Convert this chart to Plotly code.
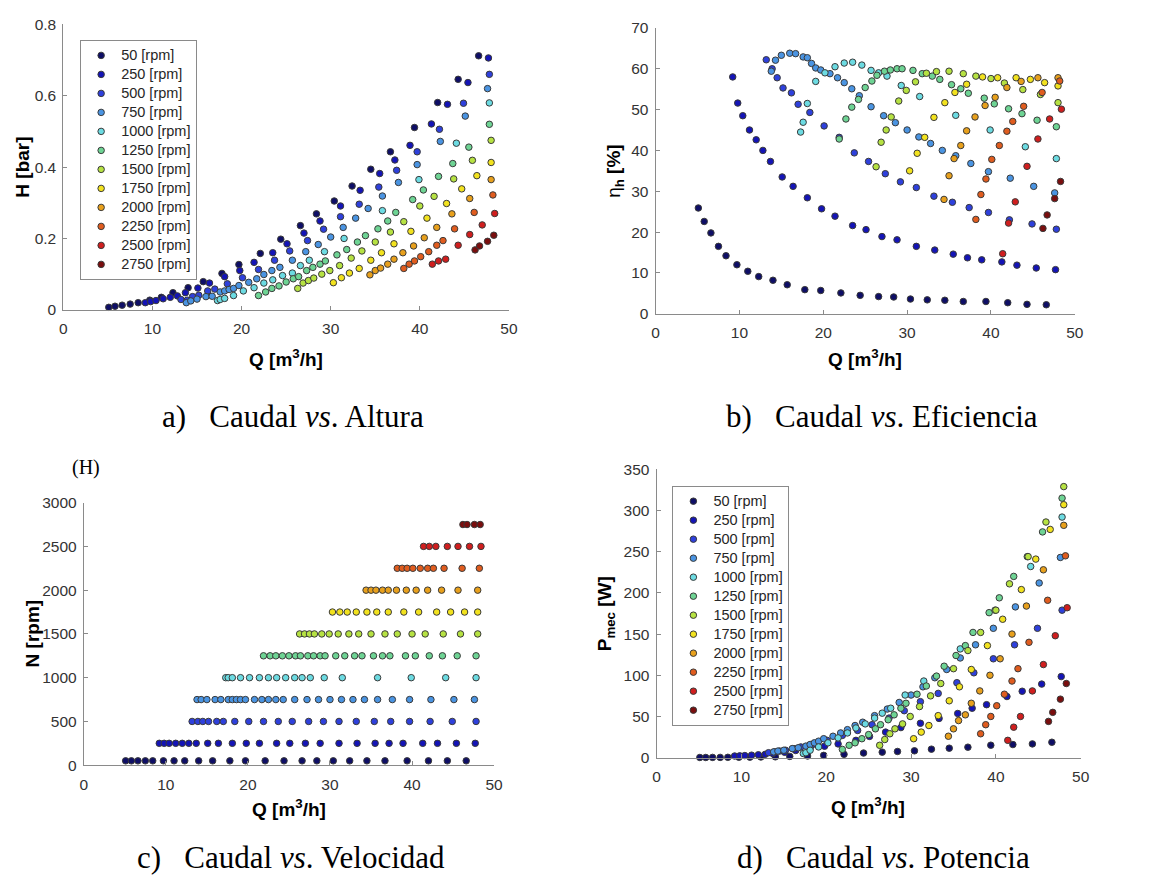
import plotly.graph_objects as go

# ---------------- data ----------------
speeds = [50, 250, 500, 750, 1000, 1250, 1500, 1750, 2000, 2250, 2500, 2750]

Q_50 = [5.1, 5.8, 6.6, 7.5, 8.4, 9.7, 11.0, 12.3, 14.0, 15.7, 17.8, 19.7, 22.1, 24.4, 26.6, 28.4, 30.4, 32.4, 34.5, 36.7, 39.4, 42.0, 44.3, 46.6]
H_50 = [0.007, 0.010, 0.013, 0.016, 0.020, 0.027, 0.035, 0.048, 0.062, 0.079, 0.102, 0.127, 0.158, 0.198, 0.236, 0.269, 0.305, 0.347, 0.394, 0.443, 0.511, 0.581, 0.646, 0.712]
E_50 = [25.9, 22.6, 19.8, 16.5, 14.2, 12.0, 10.4, 9.1, 8.2, 7.1, 5.9, 5.7, 5.1, 4.5, 4.2, 4.1, 3.6, 3.4, 3.3, 3.0, 3.0, 2.7, 2.3, 2.2]
P_50 = [0.2, 0.2, 0.3, 0.3, 0.4, 0.5, 0.6, 0.8, 1.0, 1.5, 2.0, 2.8, 4.0, 5.6, 6.7, 7.5, 8.3, 10.3, 11.5, 12.7, 15.1, 15.9, 16.7, 18.7]

Q_250 = [9.2, 9.8, 10.4, 11.2, 12.0, 12.8, 13.7, 15.1, 16.4, 18.1, 19.8, 21.4, 23.5, 25.1, 27.0, 28.8, 31.1, 33.3, 35.5, 37.2, 38.9, 41.3, 43.1, 45.4, 47.7]
H_250 = [0.020, 0.023, 0.026, 0.031, 0.035, 0.039, 0.048, 0.061, 0.075, 0.093, 0.110, 0.133, 0.160, 0.185, 0.215, 0.249, 0.291, 0.335, 0.382, 0.420, 0.461, 0.521, 0.576, 0.637, 0.706]
E_250 = [58.0, 51.6, 48.5, 45.0, 42.6, 40.0, 37.3, 33.5, 31.2, 28.4, 25.7, 23.9, 21.6, 20.6, 18.9, 18.1, 16.5, 15.6, 14.6, 13.7, 13.2, 12.7, 11.9, 11.2, 10.8]
P_250 = [2.0, 2.2, 2.5, 3.0, 3.5, 4.0, 5.0, 6.5, 8.7, 11.1, 13.9, 16.7, 21.0, 25.8, 31.0, 36.5, 41.7, 47.6, 53.6, 60.0, 64.3, 74.2, 80.6, 89.3, 98.4]

Q_500 = [13.2, 13.9, 14.5, 15.2, 16.2, 17.0, 18.4, 20.1, 21.9, 23.7, 25.4, 27.4, 29.2, 31.1, 33.2, 35.4, 37.4, 39.7, 42.2, 44.9, 47.8]
H_500 = [0.029, 0.027, 0.037, 0.041, 0.053, 0.058, 0.073, 0.090, 0.113, 0.139, 0.165, 0.194, 0.226, 0.261, 0.296, 0.344, 0.391, 0.443, 0.506, 0.579, 0.660]
E_500 = [62.2, 60.0, 57.8, 55.3, 54.1, 51.3, 49.3, 46.0, 43.2, 39.4, 37.3, 34.3, 32.3, 30.9, 28.8, 27.3, 26.0, 24.8, 23.0, 22.0, 20.7]
P_500 = [6, 7, 8, 9, 11, 13, 16, 21, 27, 33, 40, 48, 57, 68, 78, 91, 103, 120, 137, 157, 179]

Q_750 = [13.8, 14.3, 15.0, 16.0, 16.7, 17.6, 18.1, 18.6, 19.1, 19.7, 20.8, 21.7, 22.5, 23.4, 24.3, 25.7, 27.2, 28.6, 30.0, 31.4, 32.8, 34.2, 35.8, 37.6, 39.7, 42.3, 45.1, 47.6]
H_750 = [0.020, 0.025, 0.030, 0.037, 0.038, 0.050, 0.053, 0.057, 0.060, 0.068, 0.077, 0.087, 0.099, 0.110, 0.119, 0.139, 0.163, 0.183, 0.204, 0.231, 0.257, 0.284, 0.319, 0.357, 0.407, 0.472, 0.543, 0.620]
E_750 = [59.4, 62.1, 63.3, 63.8, 63.7, 62.9, 62.7, 61.3, 60.2, 59.7, 58.8, 57.8, 56.6, 55.1, 53.4, 50.7, 48.5, 46.8, 45.0, 43.3, 41.7, 40.0, 38.7, 36.8, 34.8, 33.2, 31.2, 29.6]
P_750 = [7, 8, 9, 11, 12, 14, 16, 18, 20, 23, 26, 30, 34, 39, 43, 51, 59, 67, 76, 86, 97, 107, 121, 137, 157, 183, 212, 243]

Q_1000 = [17.3, 17.6, 18.1, 19.1, 20.2, 21.4, 22.5, 23.5, 24.6, 25.7, 26.6, 27.6, 29.3, 31.5, 35.8, 39.9, 44.1, 47.8]
H_1000 = [0.026, 0.029, 0.032, 0.040, 0.053, 0.062, 0.075, 0.084, 0.096, 0.103, 0.124, 0.139, 0.163, 0.200, 0.278, 0.365, 0.467, 0.580]
E_1000 = [44.5, 46.9, 51.5, 56.9, 59.0, 60.5, 61.4, 61.6, 60.9, 59.6, 59.0, 58.2, 55.9, 53.2, 48.6, 45.0, 40.9, 38.0]
P_1000 = [5, 6, 9, 13, 18, 24, 30, 36, 41, 48, 54, 60, 76, 93, 132, 179, 232, 292]

Q_1250 = [21.9, 22.7, 23.4, 24.2, 25.0, 25.8, 26.4, 27.3, 28.0, 28.8, 29.4, 30.7, 31.8, 33.0, 33.9, 35.3, 36.4, 37.3, 39.2, 40.4, 42.1, 43.7, 45.5, 47.8]
H_1250 = [0.040, 0.050, 0.060, 0.067, 0.078, 0.087, 0.093, 0.110, 0.119, 0.128, 0.137, 0.154, 0.169, 0.190, 0.208, 0.227, 0.249, 0.273, 0.309, 0.336, 0.374, 0.410, 0.456, 0.520]
E_1250 = [42.8, 47.7, 50.6, 52.5, 55.4, 57.0, 58.4, 59.4, 59.7, 60.0, 60.0, 59.6, 58.8, 58.2, 57.4, 56.1, 55.1, 54.0, 52.8, 51.4, 50.2, 49.0, 47.4, 45.8]
P_1250 = [10, 15, 18, 23, 28, 35, 40, 46, 52, 60, 66, 77, 87, 99, 111, 124, 136, 152, 176, 194, 220, 244, 274, 315]

Q_1500 = [26.3, 26.9, 27.5, 28.1, 29.0, 29.9, 31.0, 32.3, 33.5, 35.0, 36.7, 38.2, 40.0, 41.6, 43.8, 45.9, 48.0]
H_1500 = [0.060, 0.075, 0.082, 0.089, 0.100, 0.110, 0.124, 0.145, 0.165, 0.190, 0.218, 0.247, 0.291, 0.318, 0.367, 0.419, 0.475]
E_1500 = [36.0, 42.0, 45.0, 48.2, 52.1, 54.7, 56.8, 58.9, 59.3, 59.4, 58.8, 58.2, 57.6, 56.5, 54.9, 53.7, 51.7]
P_1500 = [15, 22, 29, 35, 41, 50, 62, 75, 90, 108, 130, 152, 179, 211, 244, 286, 329]

Q_1750 = [30.3, 31.2, 32.1, 33.2, 34.5, 35.7, 37.1, 39.0, 40.8, 43.0, 44.7, 46.4, 48.0]
H_1750 = [0.076, 0.090, 0.103, 0.116, 0.139, 0.160, 0.185, 0.220, 0.257, 0.298, 0.339, 0.376, 0.413]
E_1750 = [35.0, 39.3, 43.2, 48.1, 51.7, 54.2, 56.2, 58.0, 57.8, 57.8, 57.4, 56.6, 55.8]
P_1750 = [23, 31, 39, 51, 69, 86, 107, 136, 168, 204, 241, 277, 307]

Q_2000 = [34.4, 35.0, 35.6, 36.4, 37.1, 38.1, 39.3, 40.5, 41.9, 43.6, 45.6, 48.0]
H_2000 = [0.098, 0.110, 0.117, 0.128, 0.142, 0.160, 0.179, 0.202, 0.231, 0.269, 0.312, 0.365]
E_2000 = [28.0, 33.8, 38.0, 41.2, 44.8, 48.2, 51.0, 53.0, 55.4, 56.9, 57.8, 57.8]
P_2000 = [26, 35, 45, 52, 66, 81, 100, 120, 150, 184, 228, 282]

Q_2250 = [38.2, 38.8, 39.4, 40.1, 41.0, 41.9, 42.6, 43.9, 46.1, 48.2]
H_2250 = [0.116, 0.128, 0.137, 0.149, 0.163, 0.181, 0.194, 0.227, 0.273, 0.322]
E_2250 = [23.1, 29.2, 33.0, 37.8, 41.2, 44.7, 47.1, 50.8, 54.2, 57.0]
P_2250 = [29, 40, 50, 63, 77, 93, 108, 140, 191, 245]

Q_2500 = [41.4, 42.1, 42.9, 44.3, 45.6, 47.0, 48.4]
H_2500 = [0.128, 0.137, 0.142, 0.181, 0.211, 0.238, 0.270]
E_2500 = [14.7, 22.2, 27.4, 36.1, 42.8, 47.7, 50.1]
P_2500 = [21, 37, 50, 81, 113, 148, 182]

Q_2750 = [46.2, 46.7, 47.6, 48.3]
H_2750 = [0.168, 0.179, 0.192, 0.209]
E_2750 = [20.9, 24.2, 28.2, 32.4]
P_2750 = [44, 55, 71, 90]

series_Q = [Q_50, Q_250, Q_500, Q_750, Q_1000, Q_1250, Q_1500, Q_1750, Q_2000, Q_2250, Q_2500, Q_2750]
series_H = [H_50, H_250, H_500, H_750, H_1000, H_1250, H_1500, H_1750, H_2000, H_2250, H_2500, H_2750]
series_E = [E_50, E_250, E_500, E_750, E_1000, E_1250, E_1500, E_1750, E_2000, E_2250, E_2500, E_2750]
series_P = [P_50, P_250, P_500, P_750, P_1000, P_1250, P_1500, P_1750, P_2000, P_2250, P_2500, P_2750]

colors = ["#0e0e66", "#1414b6", "#2e40dc", "#4a94e2", "#6cdbe2", "#6ed494",
          "#b6e242", "#f2e21e", "#e8a01c", "#e05c1e", "#d01e1e", "#7a0e0e"]

# ---------------- geometry helpers (pixel positions in the 1154x886 page) ----------------
W, Hh = 1154, 886


def px(x):
    return x / W


def py(y):
    return 1 - y / Hh


SANS = "Liberation Sans, Arial, Helvetica, sans-serif"
SERIF = "Liberation Serif, Times New Roman, serif"
AX = "#8a8a8a"

fig = go.Figure()

panels = [  # (xaxis, yaxis, values, legend)
    ("x", "y", series_H, "legend"),
    ("x2", "y2", series_E, None),
    ("x3", "y3", None, None),
    ("x4", "y4", series_P, "legend2"),
]

for xa, ya, vals, leg in panels:
    for i, s in enumerate(speeds):
        yv = [s] * len(series_Q[i]) if vals is None else vals[i]
        kw = {}
        if leg is not None:
            kw["legend"] = leg
        fig.add_trace(go.Scatter(
            x=series_Q[i], y=yv, xaxis=xa, yaxis=ya, mode="markers",
            name='<span style="font-size:14.5px">%d [rpm]</span>' % s,
            showlegend=leg is not None,
            cliponaxis=False,
            marker=dict(size=6.5, color=colors[i], line=dict(width=1, color="#3a3a3a")),
            **kw))


def xaxis(dom, anchor, rng, dtick):
    return dict(domain=dom, anchor=anchor, range=rng, dtick=dtick, tick0=0,
                showline=True, linecolor=AX, linewidth=1, ticks="inside", ticklen=4,
                tickcolor=AX, tickwidth=1, showgrid=False, zeroline=False,
                ticklabelstandoff=5,
                tickfont=dict(family=SANS, size=15.5, color="#333333"))


def yaxis(dom, anchor, rng, dtick):
    d = xaxis(dom, anchor, rng, dtick)
    d["ticklabelstandoff"] = 3
    return d


dom_a = ([px(60), px(510.7)], [py(306.7), py(15.7)])
dom_b = ([px(659), px(1083)], [py(310.7), py(19.3)])
dom_c = ([px(80.7), px(495.7)], [py(771), py(503.3)])
dom_d = ([px(660), px(1089)], [py(763.3), py(469.3)])

leg_common = dict(bgcolor="white", bordercolor="#8a8a8a", borderwidth=1,
                  font=dict(family=SANS, size=12.3, color="#262626"),
                  xanchor="left", yanchor="top", itemsizing="trace",
                  tracegroupgap=0)

fig.update_layout(
    width=W, height=Hh,
    margin=dict(l=0, r=0, t=0, b=0),
    paper_bgcolor="white", plot_bgcolor="white",
    xaxis=xaxis(dom_a[0], "y", [0, 50], 10),
    yaxis=yaxis(dom_a[1], "x", [0, 0.8], 0.2),
    xaxis2=xaxis(dom_b[0], "y2", [0, 50], 10),
    yaxis2=yaxis(dom_b[1], "x2", [0, 70], 10),
    xaxis3=xaxis(dom_c[0], "y3", [0, 50], 10),
    yaxis3=yaxis(dom_c[1], "x3", [0, 3000], 500),
    xaxis4=xaxis(dom_d[0], "y4", [0, 50], 10),
    yaxis4=yaxis(dom_d[1], "x4", [0, 350], 50),
    legend=dict(x=px(77), y=py(31.5), **leg_common),
    legend2=dict(x=px(676), y=py(486), **leg_common),
)

annotations = []


def ann(text, x, y, size, family=SANS, angle=0, color="black"):
    annotations.append(dict(text=text, x=px(x), y=py(y), xref="paper", yref="paper",
                            xanchor="center", yanchor="middle", showarrow=False,
                            textangle=angle, font=dict(family=family, size=size, color=color)))


QT = "<b>Q [m<sup>3</sup>/h]</b>"
ann(QT, 285, 356, 19)
ann(QT, 871, 356, 19)
ann(QT, 288, 815, 19)
ann(QT, 874, 813, 19)
ann("<b>H [bar]</b>", 19, 161, 19, angle=-90)
ann("η<sub><b>h</b></sub> <b>[%]</b>", 618, 165, 19, angle=-90)
ann("<b>N [rpm]</b>", 29, 637, 19, angle=-90)
ann("<b>P<sub>mec</sub> [W]</b>", 609, 617, 19, angle=-90)

SP = "&nbsp;&nbsp;&nbsp;"
ann("a)" + SP + "Caudal <i>vs</i>. Altura", 292, 415, 31, family=SERIF)
ann("b)" + SP + "Caudal <i>vs</i>. Eficiencia", 888, 415, 31, family=SERIF)
ann("c)" + SP + "Caudal <i>vs</i>. Velocidad", 290, 865, 31, family=SERIF)
ann("d)" + SP + "Caudal <i>vs</i>. Potencia", 890, 865, 31, family=SERIF)
ann("(H)", 83, 467, 20, family=SERIF)

fig.update_layout(annotations=annotations)

fig.write_html(
    "out.html",
    config={"displayModeBar": False},
    post_script="document.body.style.margin='0';"
                "document.documentElement.style.overflow='hidden';"
                "document.body.style.overflow='hidden';",
)
